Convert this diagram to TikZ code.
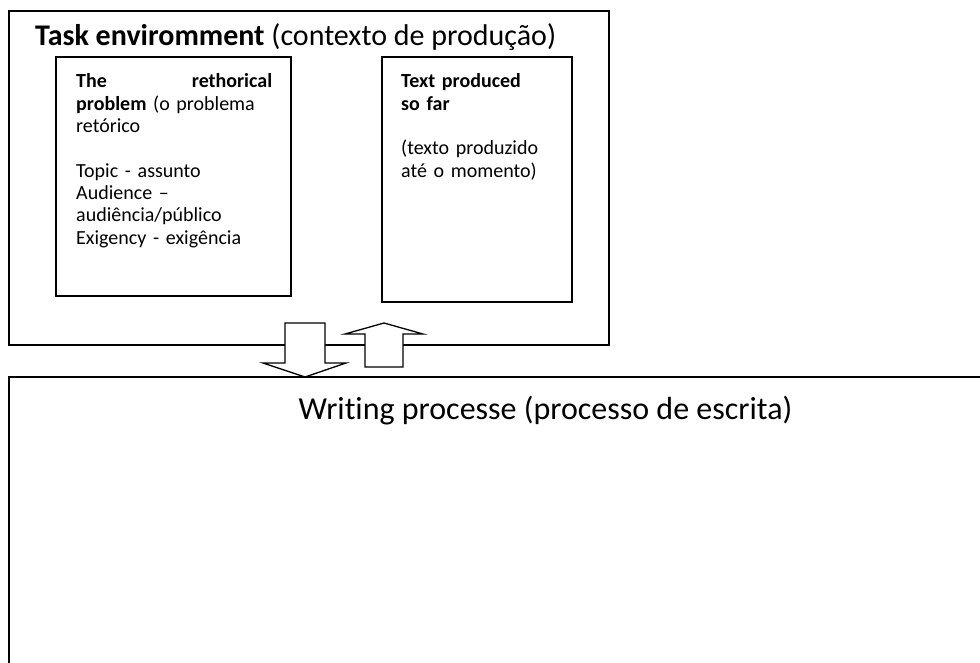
\documentclass[tikz,border=0pt]{standalone}
\usepackage{fontspec}
\setmainfont{Carlito}[Ligatures=NoCommon]
\begin{document}
\begin{tikzpicture}[x=1pt,y=-1pt,
  frame/.style={draw=black,line width=1.5pt},
  inner/.style={draw=black,line width=1.3pt},
  bigarrow/.style={draw=black,fill=white,line width=1.3pt,line join=miter},
  boxtext/.style={anchor=base west,inner sep=0pt,text width=196pt,align=left,font=\fontsize{20}{22.3}\selectfont}]
\useasboundingbox (0,0) rectangle (980,663);
\begin{scope}
\clip (0,0) rectangle (980,663);
\draw[frame] (9,11) rectangle (609,345);
\draw[frame] (9,377) rectangle (1000,700);
\end{scope}
\node[anchor=base west,inner sep=0pt,font=\fontsize{30}{34}\selectfont] (title) at (35,46) {\textbf{Task enviromment} (contexto de produção)};
\draw[inner] (56,57) rectangle (291,296);
\draw[inner] (382,57) rectangle (572,302);
\node[boxtext] (rp) at (76,88) {\textbf{The}\hfill\textbf{rethorical}\\
\textbf{problem} (o problema\\
retórico\\[22.3pt]
Topic - assunto\\
Audience –\\
audiência/público\\
Exigency - exigência};
\node[boxtext,text width=170pt] (tp) at (401,88) {\textbf{Text produced}\\
\textbf{so far}\\[22.3pt]
(texto produzido\\
até o momento)};
\node[anchor=base,inner sep=0pt,font=\fontsize{32}{38}\selectfont] (wp) at (545.5,419) {Writing processe (processo de escrita)};
\draw[bigarrow] (285,323) -- (325,323) -- (325,363) -- (346,363) -- (305,377) -- (263,363) -- (285,363) -- cycle;
\draw[bigarrow] (365,367) -- (403,367) -- (403,334) -- (423,334) -- (384,323) -- (345,334) -- (365,334) -- cycle;
\end{tikzpicture}
\end{document}
